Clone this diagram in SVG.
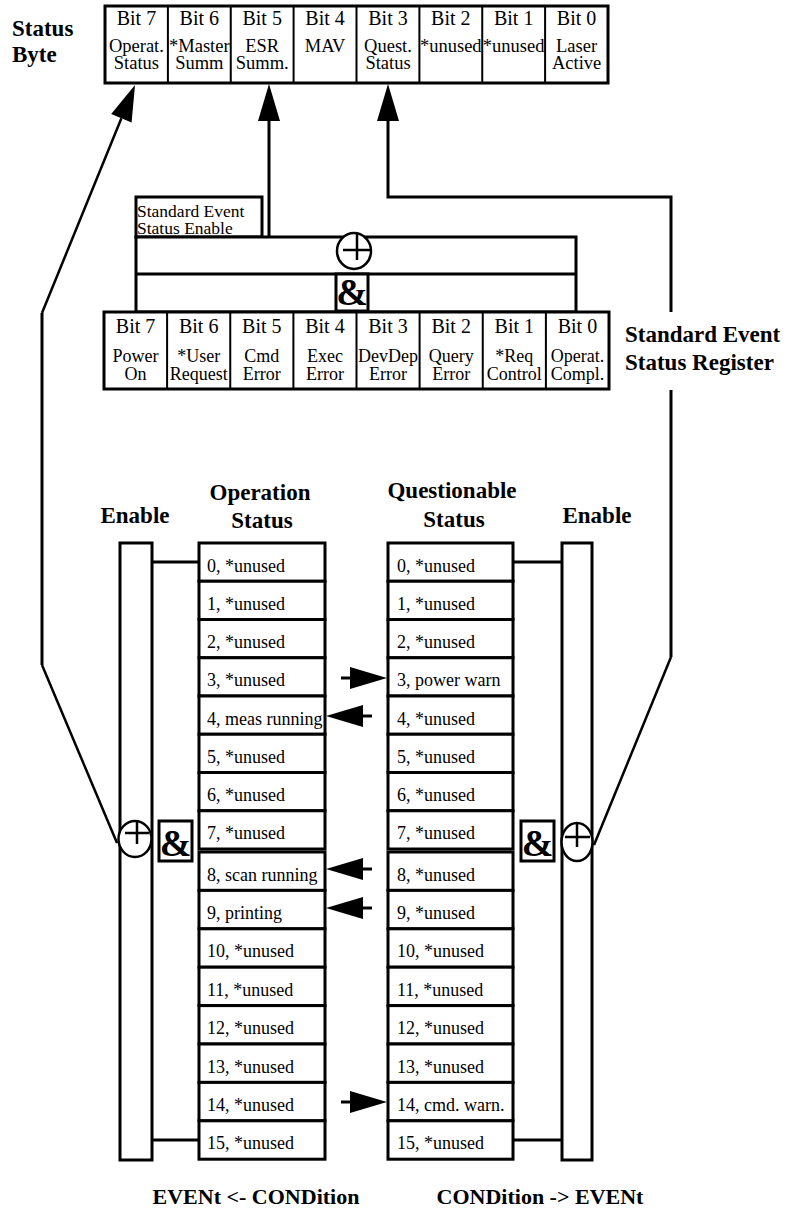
<svg xmlns="http://www.w3.org/2000/svg" width="796" height="1220" viewBox="0 0 796 1220">
<style>
text { font-family: "Liberation Serif", "Times New Roman", serif; fill: #000; }
.lbl { font-weight: bold; font-size: 23px; }
.bit { font-size: 20px; text-anchor: middle; }
.top2 { font-size: 18.5px; text-anchor: middle; }
.sub { font-size: 18px; text-anchor: middle; }
.row { font-size: 18px; }
.ese { font-size: 17.5px; }
.amp { font-weight: bold; font-size: 38px; text-anchor: middle; }
.box { fill: #fff; stroke: #000; stroke-width: 3; }
.div { stroke: #000; stroke-width: 2; fill: none; }
.ln { stroke: #000; stroke-width: 3; fill: none; }
.dg { stroke: #000; stroke-width: 2.5; fill: none; }
.pl { stroke: #000; stroke-width: 2.5; fill: none; }
.ah { fill: #000; stroke: none; }
</style>
<rect width="796" height="1220" fill="#fff"/>

<g id="connectors">
  <path class="dg" d="M121.4,118.3 L42,313"/>
  <path class="ln" d="M42,313 L42,665"/>
  <path class="dg" d="M42,665 L117,843"/>
  <polygon class="ah" points="135,85 111.2,114.1 131.6,122.5"/>
  <path class="ln" d="M269,237 L269,118"/>
  <polygon class="ah" points="269,84 258,121 280,121"/>
  <path class="ln" d="M388,118 L388,197 L671,197 L671,312"/>
  <polygon class="ah" points="388,84 377,121 399,121"/>
  <path class="ln" d="M671,390 L671,657"/>
  <path class="dg" d="M671,657 L594,845"/>
  <path class="ln" d="M152,562 L199,562 M152,1140 L199,1140 M514,562 L562,562 M514,1140 L562,1140"/>
  <path class="ln" d="M341,678 L352,678"/>
  <polygon class="ah" points="350,667 387,678 350,689"/>
  <path class="ln" d="M361,716 L372,716"/>
  <polygon class="ah" points="363,705 326,716 363,727"/>
  <path class="ln" d="M361,869 L372,869"/>
  <polygon class="ah" points="363,858 326,869 363,880"/>
  <path class="ln" d="M361,908 L372,908"/>
  <polygon class="ah" points="363,897 326,908 363,919"/>
  <path class="ln" d="M341,1102 L352,1102"/>
  <polygon class="ah" points="350,1091 387,1102 350,1113"/>
</g>

<g id="status-byte-label">
  <text class="lbl" x="12" y="36">Status</text>
  <text class="lbl" x="12" y="62">Byte</text>
</g>

<g id="status-byte">
  <rect class="box" x="105" y="6" width="503" height="77"/>
  <path class="div" d="M167.9,6V83 M230.75,6V83 M293.6,6V83 M356.5,6V83 M419.4,6V83 M482.25,6V83 M545.1,6V83"/>
  <text class="bit" x="136.4" y="24.5">Bit 7</text>
  <text class="bit" x="199.3" y="24.5">Bit 6</text>
  <text class="bit" x="262.2" y="24.5">Bit 5</text>
  <text class="bit" x="325.1" y="24.5">Bit 4</text>
  <text class="bit" x="388" y="24.5">Bit 3</text>
  <text class="bit" x="450.8" y="24.5">Bit 2</text>
  <text class="bit" x="513.7" y="24.5">Bit 1</text>
  <text class="bit" x="576.6" y="24.5">Bit 0</text>
  <text class="top2" x="136.4" y="52">Operat.</text>
  <text class="top2" x="136.4" y="69">Status</text>
  <text class="top2" x="199.3" y="52">*Master</text>
  <text class="top2" x="199.3" y="69">Summ</text>
  <text class="top2" x="262.2" y="52">ESR</text>
  <text class="top2" x="262.2" y="69">Summ.</text>
  <text class="top2" x="325.1" y="52">MAV</text>
  <text class="top2" x="388" y="52">Quest.</text>
  <text class="top2" x="388" y="69">Status</text>
  <text class="top2" x="450.8" y="52">*unused</text>
  <text class="top2" x="513.7" y="52">*unused</text>
  <text class="top2" x="576.6" y="52">Laser</text>
  <text class="top2" x="576.6" y="69">Active</text>
</g>

<g id="std-event-enable-label">
  <rect class="box" x="136" y="197" width="126" height="40"/>
  <text class="ese" x="137" y="217">Standard Event</text>
  <text class="ese" x="137" y="234">Status Enable</text>
</g>

<g id="std-event-enable">
  <rect class="box" x="136" y="237" width="440" height="75"/>
  <path class="ln" d="M136,274 H576"/>
  <ellipse cx="354" cy="251" rx="17" ry="18" fill="#fff" stroke="#000" stroke-width="2.5"/>
  <path class="pl" d="M357,234 V260 M343,250 H370"/>
  <rect class="box" x="336" y="274" width="32" height="37"/>
  <text class="amp" x="352" y="305">&amp;</text>
</g>

<g id="std-event-register">
  <rect class="box" x="104" y="312" width="505" height="77"/>
  <path class="div" d="M167.1,312V389 M230.25,312V389 M293.4,312V389 M356.5,312V389 M419.6,312V389 M482.75,312V389 M545.9,312V389"/>
  <text class="bit" x="135.6" y="333">Bit 7</text>
  <text class="bit" x="198.7" y="333">Bit 6</text>
  <text class="bit" x="261.8" y="333">Bit 5</text>
  <text class="bit" x="324.9" y="333">Bit 4</text>
  <text class="bit" x="388" y="333">Bit 3</text>
  <text class="bit" x="451.2" y="333">Bit 2</text>
  <text class="bit" x="514.3" y="333">Bit 1</text>
  <text class="bit" x="577.4" y="333">Bit 0</text>
  <text class="sub" x="135.6" y="362">Power</text>
  <text class="sub" x="135.6" y="380">On</text>
  <text class="sub" x="198.7" y="362">*User</text>
  <text class="sub" x="198.7" y="380">Request</text>
  <text class="sub" x="261.8" y="362">Cmd</text>
  <text class="sub" x="261.8" y="380">Error</text>
  <text class="sub" x="324.9" y="362">Exec</text>
  <text class="sub" x="324.9" y="380">Error</text>
  <text class="sub" x="388" y="362">DevDep</text>
  <text class="sub" x="388" y="380">Error</text>
  <text class="sub" x="451.2" y="362">Query</text>
  <text class="sub" x="451.2" y="380">Error</text>
  <text class="sub" x="514.3" y="362">*Req</text>
  <text class="sub" x="514.3" y="380">Control</text>
  <text class="sub" x="577.4" y="362">Operat.</text>
  <text class="sub" x="577.4" y="380">Compl.</text>
</g>

<g id="std-event-register-label">
  <text class="lbl" x="625" y="342">Standard Event</text>
  <text class="lbl" x="625" y="370">Status Register</text>
</g>

<g id="headers">
  <text class="lbl" x="135" y="523" text-anchor="middle">Enable</text>
  <text class="lbl" x="260" y="500" text-anchor="middle">Operation</text>
  <text class="lbl" x="262" y="528" text-anchor="middle">Status</text>
  <text class="lbl" x="452" y="498" text-anchor="middle">Questionable</text>
  <text class="lbl" x="454" y="527" text-anchor="middle">Status</text>
  <text class="lbl" x="597" y="523" text-anchor="middle">Enable</text>
</g>

<g id="left-enable">
  <rect class="box" x="120" y="543" width="32" height="617"/>
  <ellipse cx="135" cy="839" rx="16.5" ry="18" fill="#fff" stroke="#000" stroke-width="2.5"/>
  <path class="pl" d="M137,822 V844 M125,833 H149"/>
</g>
<g id="left-and">
  <rect class="box" x="159" y="821" width="33" height="40"/>
  <text class="amp" x="175.5" y="856">&amp;</text>
</g>

<g id="right-enable">
  <rect class="box" x="562" y="543" width="30" height="617"/>
  <ellipse cx="577" cy="842" rx="15.5" ry="19" fill="#fff" stroke="#000" stroke-width="2.5"/>
  <path class="pl" d="M577,823 V847 M565,837 H590"/>
</g>
<g id="right-and">
  <rect class="box" x="521" y="821" width="33" height="40"/>
  <text class="amp" x="537.5" y="856">&amp;</text>
</g>

<g id="operation-status">
  <rect class="box" x="199" y="543" width="126" height="38.25"/>
  <rect class="box" x="199" y="581.25" width="126" height="38.25"/>
  <rect class="box" x="199" y="619.5" width="126" height="38.25"/>
  <rect class="box" x="199" y="657.75" width="126" height="38.25"/>
  <rect class="box" x="199" y="696" width="126" height="38.25"/>
  <rect class="box" x="199" y="734.25" width="126" height="38.25"/>
  <rect class="box" x="199" y="772.5" width="126" height="38.25"/>
  <rect class="box" x="199" y="810.75" width="126" height="38.25"/>
  <rect class="box" x="199" y="852" width="126" height="38.4"/>
  <rect class="box" x="199" y="890.4" width="126" height="38.4"/>
  <rect class="box" x="199" y="928.8" width="126" height="38.4"/>
  <rect class="box" x="199" y="967.2" width="126" height="38.4"/>
  <rect class="box" x="199" y="1005.6" width="126" height="38.4"/>
  <rect class="box" x="199" y="1044" width="126" height="38.4"/>
  <rect class="box" x="199" y="1082.4" width="126" height="38.4"/>
  <rect class="box" x="199" y="1120.8" width="126" height="38.4"/>
  <text class="row" x="207" y="571.5">0, *unused</text>
  <text class="row" x="207" y="609.75">1, *unused</text>
  <text class="row" x="207" y="648">2, *unused</text>
  <text class="row" x="207" y="686.25">3, *unused</text>
  <text class="row" x="207" y="724.5">4, meas running</text>
  <text class="row" x="207" y="762.75">5, *unused</text>
  <text class="row" x="207" y="801">6, *unused</text>
  <text class="row" x="207" y="839.25">7, *unused</text>
  <text class="row" x="207" y="880.5">8, scan running</text>
  <text class="row" x="207" y="918.9">9, printing</text>
  <text class="row" x="207" y="957.3">10, *unused</text>
  <text class="row" x="207" y="995.7">11, *unused</text>
  <text class="row" x="207" y="1034.1">12, *unused</text>
  <text class="row" x="207" y="1072.5">13, *unused</text>
  <text class="row" x="207" y="1110.9">14, *unused</text>
  <text class="row" x="207" y="1149.3">15, *unused</text>
</g>

<g id="questionable-status">
  <rect class="box" x="388" y="543" width="125" height="38.25"/>
  <rect class="box" x="388" y="581.25" width="125" height="38.25"/>
  <rect class="box" x="388" y="619.5" width="125" height="38.25"/>
  <rect class="box" x="388" y="657.75" width="125" height="38.25"/>
  <rect class="box" x="388" y="696" width="125" height="38.25"/>
  <rect class="box" x="388" y="734.25" width="125" height="38.25"/>
  <rect class="box" x="388" y="772.5" width="125" height="38.25"/>
  <rect class="box" x="388" y="810.75" width="125" height="38.25"/>
  <rect class="box" x="388" y="852" width="125" height="38.4"/>
  <rect class="box" x="388" y="890.4" width="125" height="38.4"/>
  <rect class="box" x="388" y="928.8" width="125" height="38.4"/>
  <rect class="box" x="388" y="967.2" width="125" height="38.4"/>
  <rect class="box" x="388" y="1005.6" width="125" height="38.4"/>
  <rect class="box" x="388" y="1044" width="125" height="38.4"/>
  <rect class="box" x="388" y="1082.4" width="125" height="38.4"/>
  <rect class="box" x="388" y="1120.8" width="125" height="38.4"/>
  <text class="row" x="397" y="571.5">0, *unused</text>
  <text class="row" x="397" y="609.75">1, *unused</text>
  <text class="row" x="397" y="648">2, *unused</text>
  <text class="row" x="397" y="686.25">3, power warn</text>
  <text class="row" x="397" y="724.5">4, *unused</text>
  <text class="row" x="397" y="762.75">5, *unused</text>
  <text class="row" x="397" y="801">6, *unused</text>
  <text class="row" x="397" y="839.25">7, *unused</text>
  <text class="row" x="397" y="880.5">8, *unused</text>
  <text class="row" x="397" y="918.9">9, *unused</text>
  <text class="row" x="397" y="957.3">10, *unused</text>
  <text class="row" x="397" y="995.7">11, *unused</text>
  <text class="row" x="397" y="1034.1">12, *unused</text>
  <text class="row" x="397" y="1072.5">13, *unused</text>
  <text class="row" x="397" y="1110.9">14, cmd. warn.</text>
  <text class="row" x="397" y="1149.3">15, *unused</text>
</g>

<g id="footer">
  <text class="lbl" x="256" y="1204" text-anchor="middle" style="font-size:22px">EVENt &lt;- CONDition</text>
  <text class="lbl" x="540" y="1204" text-anchor="middle" style="font-size:22px">CONDition -&gt; EVENt</text>
</g>
</svg>
